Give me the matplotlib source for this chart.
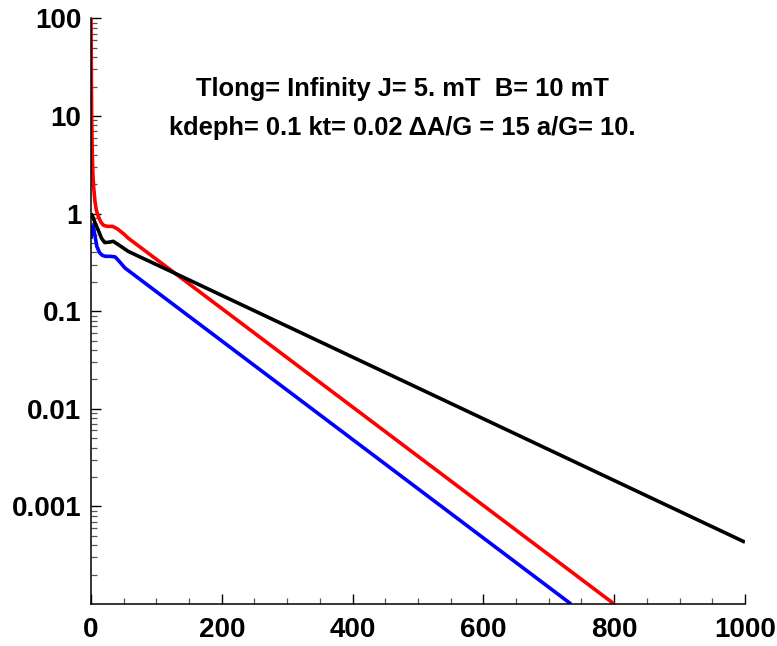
import matplotlib
matplotlib.use('Agg')
import matplotlib.pyplot as plt
from matplotlib.ticker import LogLocator, MultipleLocator, NullFormatter, FixedLocator

plt.rcParams['font.family'] = ['Liberation Sans', 'DejaVu Sans']
plt.rcParams['font.weight'] = 'bold'

# curves (time, value)
t_red = [0, 0.5, 1, 2, 3, 4, 6, 8, 11, 15, 19, 25, 33, 40, 50, 57, 120, 800]
v_red = [100, 30, 10, 4, 2.5, 1.9, 1.35, 1.1, 0.94, 0.82, 0.76, 0.74, 0.74, 0.7, 0.62, 0.56, 0.27, 1e-4]

t_black = [0, 3, 7, 11, 16, 21, 28, 34, 42, 57, 120, 1000]
v_black = [1.0, 0.92, 0.78, 0.68, 0.56, 0.505, 0.51, 0.52, 0.48, 0.41, 0.26, 4.3e-4]

t_blue = [0, 1, 3, 6, 9, 13, 17, 22, 30, 37, 44, 52, 734]
v_blue = [0.55, 0.7, 0.75, 0.6, 0.46, 0.4, 0.375, 0.365, 0.365, 0.36, 0.32, 0.277, 1e-4]

x_ticks = [0, 200, 400, 600, 800, 1000]
y_ticks = [0.001, 0.01, 0.1, 1, 10, 100]
y_labels = ['0.001', '0.01', '0.1', '1', '10', '100']

title1 = 'Tlong= Infinity J= 5. mT  B= 10 mT'
title2 = 'kdeph= 0.1 kt= 0.02 ΔA/G = 15 a/G= 10.'

fig = plt.figure(figsize=(7.77, 6.46), dpi=100)
ax = fig.add_axes([0.1171, 0.065, 0.8417, 0.9065])

ax.plot(t_red, v_red, color='#ff0000', lw=2.6, solid_capstyle='butt')
ax.plot(t_blue, v_blue, color='#0000ff', lw=2.6, solid_capstyle='butt')
ax.plot(t_black, v_black, color='black', lw=2.6, solid_capstyle='butt')

ax.set_yscale('log')
ax.set_xlim(0, 1000)
ax.set_ylim(1e-4, 100)

ax.spines['top'].set_visible(False)
ax.spines['right'].set_visible(False)
ax.spines['left'].set_linewidth(1.1)
ax.spines['bottom'].set_linewidth(1.1)

ax.xaxis.set_major_locator(FixedLocator(x_ticks))
ax.xaxis.set_minor_locator(MultipleLocator(50))
ax.set_xticklabels([str(v) for v in x_ticks])
ax.yaxis.set_major_locator(FixedLocator(y_ticks))
ax.set_yticklabels(y_labels)
ax.yaxis.set_minor_locator(LogLocator(base=10, subs=range(2, 10)))
ax.yaxis.set_minor_formatter(NullFormatter())

ax.tick_params(which='major', direction='in', length=7, width=1, labelsize=20, color='black')
ax.tick_params(which='minor', direction='in', length=4, width=0.9, color='#555555')
ax.tick_params(axis='x', which='major', pad=9)
ax.tick_params(axis='y', which='major', pad=7)

ax.text(0.4755, 0.8675, title1, transform=ax.transAxes, ha='center', va='baseline',
        fontsize=18.4, fontweight='bold')
ax.text(0.4755, 0.801, title2, transform=ax.transAxes, ha='center', va='baseline',
        fontsize=18.4, fontweight='bold')

fig.savefig('out.png', dpi=100)
